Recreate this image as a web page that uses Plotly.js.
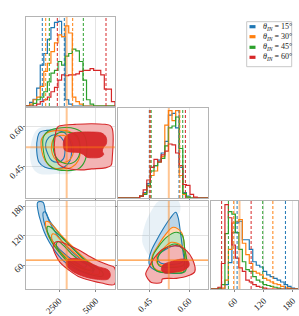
<!DOCTYPE html>
<html><head><meta charset="utf-8">
<script src="https://cdn.plot.ly/plotly-3.0.1.min.js"></script>
<style>html,body{margin:0;padding:0;background:#fff}#chart{width:299px;height:316px}</style>
</head><body><div id="chart"></div>
<script>
// ---------- data ----------
const colors = ['#1f77b4','#ff7f0e','#2ca02c','#d62728'];
const lightColors = ['#bcd6e9','#ffd8b6','#c0e3c0','#f3b4b4'];
const rgb = [[31,119,180],[255,127,14],[44,160,44],[214,39,40]];
const angles = ['15°','30°','45°','60°'];
const p1Range = [260, 6300];
const p2Range = [0.33, 0.672];
const p3Range = [11, 191];
const p1Ticks = [2500, 5000];
const p2Ticks = [0.45, 0.60];
const p2TickText = ['0.45', '0.60'];
const p3Ticks = [60, 120, 180];
const truths = [3020, 0.523, 70];

// histograms (25 bins over each range, heights relative to panel top)
const h1Blue   = [0,0.04,0.075,0.2,0.46,0.59,0.75,0.88,0.94,0.95,0.78,0.07,0.02,0,0,0,0,0,0,0,0,0,0,0,0];
const h1Orange = [0,0.02,0.07,0.1,0.22,0.39,0.48,0.61,0.71,0.8,0.78,0.9,0.82,0.1,0.05,0.02,0,0,0,0,0,0,0,0,0];
const h1Green  = [0,0,0.03,0.07,0.1,0.16,0.27,0.37,0.4,0.5,0.46,0.56,0.59,0.64,0.62,0.5,0.29,0.07,0.02,0,0,0,0,0,0];
const h1Red    = [0,0,0,0.02,0.05,0.07,0.1,0.16,0.21,0.29,0.35,0.34,0.35,0.35,0.36,0.39,0.4,0.4,0.42,0.4,0.4,0.35,0.19,0.19,0.05];
const h2Blue   = [0,0,0,0,0,0,0.02,0.06,0.16,0.34,0.36,0.42,0.5,0.63,0.92,0.94,0.78,0.34,0.06,0.02,0,0,0,0,0];
const h2Orange = [0,0,0,0,0,0,0.02,0.05,0.13,0.25,0.3,0.4,0.46,0.81,0.97,0.86,0.97,0.25,0.04,0.01,0,0,0,0,0];
const h2Green  = [0,0,0,0,0,0,0.02,0.04,0.14,0.3,0.36,0.4,0.44,0.58,0.78,0.8,0.9,0.55,0.05,0.01,0,0,0,0,0];
const h2Red    = [0,0,0,0,0,0,0.02,0.09,0.2,0.34,0.43,0.4,0.48,0.52,0.6,0.59,0.5,0.36,0.15,0.14,0.04,0.01,0,0,0];
const h3Blue   = [0,0,0,0,0.05,0.3,0.64,0.75,0.77,0.56,0.56,0.45,0.31,0.27,0.25,0.2,0.16,0.14,0.12,0.1,0.08,0.05,0.03,0.01,0];
const h3Orange = [0,0,0,0.01,0.1,0.45,0.75,0.77,0.79,0.52,0.39,0.29,0.2,0.18,0.16,0.12,0.1,0.08,0.06,0.05,0.03,0.02,0.01,0,0];
const h3Green  = [0,0,0.01,0.05,0.63,0.88,0.85,0.64,0.45,0.31,0.22,0.2,0.14,0.1,0.08,0.05,0.04,0.03,0.02,0.01,0,0,0,0,0];
const h3Red    = [0,0,0.02,0.29,0.96,0.81,0.5,0.35,0.24,0.2,0.1,0.08,0.05,0.03,0.02,0.01,0,0,0,0,0,0,0,0,0];

// quantile (16% / 84%) lines per series
const q1Low = [1366,1597,1842,2385], q1High = [2860,3428,4150,5690];
const q2Low = [0.449,0.451,0.456,0.452], q2High = [0.562,0.565,0.576,0.586];
const q3Low = [65,58,47,33], q3High = [165,139,118,94];

// 2D contour levels: [x values], [y values]
// panel p1 vs p2
const A_cloud = [[871,1210,2002,2906,3359,2228,1210,758,531,599],[0.5806,0.597,0.5997,0.5806,0.428,0.4216,0.4216,0.4407,0.4852,0.536]];
const A_blueOut = [[1052,1210,1662,2341,2906,3246,3359,3246,2906,2228,1549,1142,984],[0.5615,0.5806,0.587,0.587,0.5768,0.5488,0.5106,0.4725,0.4496,0.4407,0.447,0.4661,0.5106]];
const A_blueIn = [[1594,1662,2002,2454,2793,2906,2793,2454,2002,1730],[0.5234,0.5488,0.5679,0.5679,0.5488,0.5106,0.4788,0.4661,0.4725,0.4979]];
const A_orangeOut = [[1323,1662,2341,3133,3698,3924,3811,3359,2680,2002,1549,1323],[0.5552,0.5768,0.587,0.5844,0.5615,0.5234,0.4725,0.447,0.4407,0.447,0.4725,0.5106]];
const A_orangeIn = [[2047,2002,2228,2793,3246,3472,3359,2906,2341],[0.4979,0.536,0.5615,0.5679,0.5552,0.5234,0.4852,0.4661,0.4725]];
const A_greenOut = [[1436,1775,2680,3585,4151,4377,4264,3811,2906,2115,1662,1436],[0.5615,0.5844,0.597,0.5933,0.5742,0.536,0.4725,0.4407,0.4343,0.4432,0.4661,0.5106]];
const A_greenIn = [[2228,2115,2341,3020,3698,3924,3811,3359,2680],[0.4916,0.5488,0.5742,0.5806,0.5679,0.5297,0.4852,0.4623,0.4661]];
const A_redOut = [[2228,2341,2454,2906,3585,4716,5621,5960,6118,6118,6028,5621,4716,4037,3359,2793,2454,2273,2183],[0.5615,0.5933,0.6022,0.6073,0.61,0.6124,0.61,0.606,0.5933,0.4852,0.4534,0.4445,0.4407,0.4369,0.4394,0.447,0.4598,0.4852,0.5234]];
const A_redIn = [[2793,2861,3020,3359,4037,4716,5395,5689,5712,5508,5440,5530,5282,4716,4377,4151,3811,3359,2906],[0.5297,0.5552,0.5679,0.5768,0.5806,0.5806,0.5768,0.5615,0.536,0.5208,0.5081,0.4954,0.4852,0.4827,0.4852,0.4954,0.503,0.5043,0.5106]];
// panel p1 vs p3
const B_blueOut = [[1052,1097,1278,1504,1843,2296,2861,3540,4264,4671,4829,4377,3811,3246,2725,2273,1866,1594,1413],[188.4,167.9,147.4,127,106.5,86,66.9,53.2,43.7,40.9,48.4,64.1,82.6,99.6,116.7,133.8,150.8,167.9,188.4]];
const B_blueIn = [[1436,1549,1888,2409,3088,3811,4218,4377,3811,3178,2635,2183,1821,1594],[167.9,140.6,116.7,96.2,77.8,62.1,55.3,60,75.7,92.8,111.2,130.4,150.8,167.9]];
const B_orangeOut = [[1594,1594,1775,2228,2793,3472,4264,4987,5214,5214,4716,4037,3359,2680,2137,1775],[148.8,140.6,120.1,99.6,79.2,62.1,48.4,40.9,41.6,50.5,62.1,79.2,99.6,120.1,139.2,148.8]];
const B_orangeIn = [[2047,2002,2341,2906,3585,4377,4671,4603,3924,3246,2635,2228],[123.5,114.7,96.2,79.2,64.1,51.9,51.9,60,75,92.8,110.6,122.9]];
const B_greenOut = [[1730,1685,1956,2364,2906,3585,4377,5214,5485,5440,4829,4151,3472,2793,2273,1911],[139.2,132.4,109.9,91.4,72.3,55.3,43.7,36.8,38.2,46.4,58.7,73.7,92.8,113.3,128.3,137.9]];
const B_greenIn = [[2364,2318,2680,3246,3924,4716,4897,4716,4037,3359,2816,2499],[106.5,99.6,82.6,66.9,55.3,47.8,50.5,56.6,66.9,82.6,99.6,107.8]];
const B_redOut = [[2228,2092,2273,2567,3133,3811,4716,5395,6254,6254,5847,5168,4490,3811,3133,2567],[106.5,96.2,80.5,65.5,50.5,36.8,27.9,23.2,20.5,55.3,60,68.2,79.2,91.4,101,107.8]];
const B_redIn = [[3020,3585,4490,5168,5847,5983,5847,4942,4037,3359,3020],[68.9,73.7,65.5,56.6,49.8,39.6,31.4,31.4,38.2,48.4,58.7]];
// panel p2 vs p3
const C_cloud = [[0.4504,0.4225,0.4314,0.4567,0.4885,0.5583,0.5646,0.5265,0.5012,0.4758,0.4567],[79.2,106.5,140.6,171.3,191.8,191.8,167.9,154.2,133.8,109.9,89.4]];
const C_blueOut = [[0.5494,0.5265,0.5012,0.4758,0.4567,0.4479,0.4504,0.4758,0.5265,0.5773,0.5837,0.5773,0.5672,0.5583],[167.9,154.2,133.8,109.9,89.4,72.3,58.7,48.4,43.7,45,58.7,86,127,157.6]];
const C_blueIn = [[0.4821,0.5139,0.5456,0.5748,0.5837,0.5723,0.5265,0.4885],[79.2,92.8,99.6,94.2,77.8,65.5,61.4,65.5]];
const C_orangeOut = [[0.5392,0.5075,0.4821,0.4606,0.4567,0.4758,0.5265,0.5773,0.59,0.5837,0.571],[137.2,120.1,99.6,79.2,62.1,50.5,46.4,48.4,58.7,92.8,127]];
const C_orangeIn = [[0.5329,0.5012,0.4758,0.4821,0.5265,0.5773,0.5837,0.571],[106.5,92.8,75.7,62.1,58.7,60,79.2,99.6]];
const C_greenOut = [[0.5519,0.5139,0.4821,0.4631,0.4606,0.4758,0.5329,0.5837,0.5925,0.5837,0.5748],[127,116.7,96.2,79.2,62.1,48.4,43.7,46.4,62.1,92.8,120.1]];
const C_greenIn = [[0.5456,0.5075,0.4821,0.486,0.5329,0.5773,0.5837,0.571],[103,92.8,75.7,58.7,55.3,58.7,75.7,96.2]];
const C_redOut = [[0.5456,0.5012,0.4694,0.4504,0.4352,0.444,0.4567,0.4948,0.4986,0.5519,0.5963,0.6217,0.6128,0.59,0.5646],[99.6,92.8,75.7,58.7,41.6,31.4,24.5,24.5,31.4,32.8,38.2,46.4,72.3,89.4,98.3]];
const C_redIn = [[0.5012,0.5392,0.5773,0.5963,0.6001,0.5837,0.5392,0.5075,0.4948],[60,68.2,72.3,68.9,58.7,50.5,45,43.7,50.5]];

// ---------- helpers ----------
const rgba = (i, a) => `rgba(${rgb[i][0]},${rgb[i][1]},${rgb[i][2]},${a})`;
const serif = 'Liberation Serif, DejaVu Serif, Times New Roman, serif';
function stepTrace(counts, r, xa, ya, i) {
  const n = counts.length, w = (r[1]-r[0])/n;
  const xs = [r[0]], ys = [0];
  counts.forEach((c, k) => { xs.push(r[0] + k*w); ys.push(c); });
  xs.push(r[1]); ys.push(0);
  return {type:'scatter', mode:'lines', x:xs, y:ys, xaxis:xa, yaxis:ya,
    line:{color:colors[i], width:1.2, shape:'hv'}, hoverinfo:'skip', showlegend:false};
}
function poly(p, xa, ya, i, kind) {
  const closedX = p[0].concat([p[0][0]]), closedY = p[1].concat([p[1][0]]);
  const t = {type:'scatter', mode:'lines', x:closedX, y:closedY, xaxis:xa, yaxis:ya,
    hoverinfo:'skip', showlegend:false, line:{color:colors[i], width:1.1, shape:'spline', smoothing:1}};
  if (kind === 'fill') { t.fill = 'toself'; t.fillcolor = lightColors[i]; t.line = {width:0, shape:'spline', smoothing:1}; }
  else if (kind === 'core') { t.fill = 'toself'; t.fillcolor = rgba(i, 0.95); t.line.width = 0.8; }
  else if (kind === 'cloud') { t.fill = 'toself'; t.fillcolor = rgba(i, 0.1); t.line = {width:0, shape:'spline', smoothing:1}; }
  return t;
}

const traces = [];
// histograms
[[h1Blue,h1Orange,h1Green,h1Red], [h2Blue,h2Orange,h2Green,h2Red], [h3Blue,h3Orange,h3Green,h3Red]].forEach((set, j) => {
  const r = [p1Range, p2Range, p3Range][j];
  const ax = [['x','y'],['x3','y3'],['x6','y6']][j];
  set.forEach((c, i) => traces.push(stepTrace(c, r, ax[0], ax[1], i)));
});
// 2D panels
traces.push(poly(A_cloud, 'x2', 'y2', 0, 'cloud'));
traces.push(poly(C_cloud, 'x5', 'y5', 0, 'cloud'));
const panels = [
  ['x2','y2',[A_blueOut,A_blueIn],[A_orangeOut,A_orangeIn],[A_greenOut,A_greenIn],[A_redOut,A_redIn]],
  ['x4','y4',[B_blueOut,B_blueIn],[B_orangeOut,B_orangeIn],[B_greenOut,B_greenIn],[B_redOut,B_redIn]],
  ['x5','y5',[C_blueOut,C_blueIn],[C_orangeOut,C_orangeIn],[C_greenOut,C_greenIn],[C_redOut,C_redIn]]
];
panels.forEach(p => {
  // light fills of outer levels, in series order
  for (let i = 0; i < 4; i++) traces.push(poly(p[2+i][0], p[0], p[1], i, 'fill'));
  // contour lines of the first three series
  for (let i = 0; i < 3; i++) {
    traces.push(poly(p[2+i][0], p[0], p[1], i, 'line'));
    traces.push(poly(p[2+i][1], p[0], p[1], i, 'line'));
  }
  // red outer line and dark core
  traces.push(poly(p[5][0], p[0], p[1], 3, 'line'));
  traces.push(poly(p[5][1], p[0], p[1], 3, 'core'));
});

// ---------- shapes ----------
const shapes = [];
const qLine = (x, xa, ya, i) => ({type:'line', xref:xa, yref:ya+' domain', x0:x, x1:x, y0:0, y1:1,
  line:{color:colors[i], width:1, dash:'3px,2px'}, layer:'above'});
[[q1Low,q1High,'x','y'],[q2Low,q2High,'x3','y3'],[q3Low,q3High,'x6','y6']].forEach(([lo,hi,xa,ya]) => {
  for (let i = 0; i < 4; i++) { shapes.push(qLine(lo[i], xa, ya, i)); shapes.push(qLine(hi[i], xa, ya, i)); }
});
const vTruth = (x, xa, ya) => ({type:'line', xref:xa, yref:ya+' domain', x0:x, x1:x, y0:0, y1:1,
  line:{color:rgba(1,0.45), width:2}, layer:'above'});
const hTruth = (y, xa, ya, a) => ({type:'line', xref:xa+' domain', yref:ya, x0:0, x1:1, y0:y, y1:y,
  line:{color:rgba(1,a), width:a > 0.6 ? 1.2 : 2}, layer:'above'});
[['x','y'],['x2','y2'],['x4','y4']].forEach(a => shapes.push(vTruth(truths[0], a[0], a[1])));
[['x3','y3'],['x5','y5']].forEach(a => shapes.push(vTruth(truths[1], a[0], a[1])));
shapes.push(vTruth(truths[2], 'x6', 'y6'));
shapes.push(hTruth(truths[1], 'x2', 'y2', 0.45));
shapes.push(hTruth(truths[2], 'x4', 'y4', 0.85));
shapes.push(hTruth(truths[2], 'x5', 'y5', 0.85));

// legend (drawn box, patches and text)
const W = 299, H = 316;
shapes.push({type:'rect', xref:'paper', yref:'paper', x0:246.7/W, x1:291.7/W, y0:1-66.7/H, y1:1-21.7/H,
  line:{color:'#c8c8c8', width:1}, fillcolor:'rgba(255,255,255,0.9)'});
const legendRows = [26.7, 36.7, 47.3, 57.3];
const annotations = [];
angles.forEach((a, i) => {
  const yc = legendRows[i];
  shapes.push({type:'rect', xref:'paper', yref:'paper', x0:249.5/W, x1:255.5/W, y0:1-(yc+1.6)/H, y1:1-(yc-1.6)/H,
    line:{width:0}, fillcolor:colors[i]});
  annotations.push({xref:'paper', yref:'paper', x:261/W, y:1-yc/H, xanchor:'left', yanchor:'middle', showarrow:false,
    text:'<i>θ</i><sub><i>IN</i></sub> = ' + a, font:{family:serif, size:8, color:'#222'}});
});

// ---------- layout ----------
const colD = [[0.087,0.3846],[0.3946,0.6957],[0.7057,0.9967]];
const rowD = [[0.6646,0.9462],[0.3734,0.6582],[0.0854,0.3639]];
const base = {showline:true, mirror:true, linecolor:'#b4b4b4', linewidth:1.2, showgrid:true, gridcolor:'#e4e4e4',
  gridwidth:1, zeroline:false, ticks:'outside', ticklen:2, tickcolor:'#888', tickangle:-45,
  tickfont:{family:serif, size:9, color:'#222'}, fixedrange:true, automargin:false};
const ax = (o) => Object.assign({}, base, o);
const histY = (d, anchor) => ax({domain:d, range:[0,1], anchor, showticklabels:false, showgrid:false, ticks:''});
const layout = {
  width:W, height:H, margin:{l:0,r:0,t:0,b:0}, paper_bgcolor:'#fff', plot_bgcolor:'#fff', showlegend:false,
  xaxis:  ax({domain:colD[0], range:p1Range, anchor:'y',  tickvals:p1Ticks, showticklabels:false}),
  yaxis:  histY(rowD[0], 'x'),
  xaxis2: ax({domain:colD[0], range:p1Range, anchor:'y2', tickvals:p1Ticks, showticklabels:false}),
  yaxis2: ax({domain:rowD[1], range:p2Range, anchor:'x2', tickvals:p2Ticks, ticktext:p2TickText}),
  xaxis3: ax({domain:colD[1], range:p2Range, anchor:'y3', tickvals:p2Ticks, showticklabels:false}),
  yaxis3: histY(rowD[1], 'x3'),
  xaxis4: ax({domain:colD[0], range:p1Range, anchor:'y4', tickvals:p1Ticks}),
  yaxis4: ax({domain:rowD[2], range:p3Range, anchor:'x4', tickvals:p3Ticks}),
  xaxis5: ax({domain:colD[1], range:p2Range, anchor:'y5', tickvals:p2Ticks, ticktext:p2TickText}),
  yaxis5: ax({domain:rowD[2], range:p3Range, anchor:'x5', tickvals:p3Ticks, showticklabels:false}),
  xaxis6: ax({domain:colD[2], range:p3Range, anchor:'y6', tickvals:p3Ticks}),
  yaxis6: histY(rowD[2], 'x6'),
  shapes, annotations
};
Plotly.newPlot('chart', traces, layout, {staticPlot:true, displayModeBar:false});
</script></body></html>
